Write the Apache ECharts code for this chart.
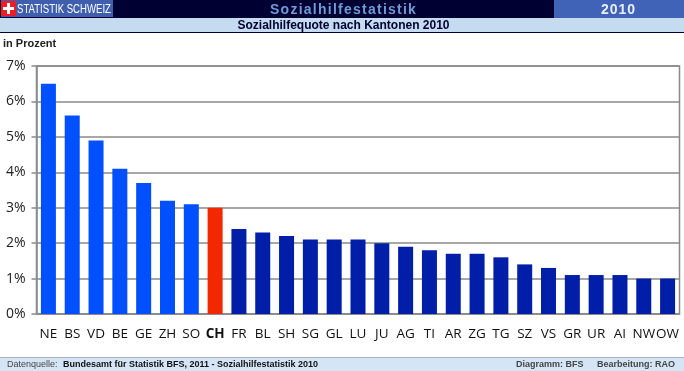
<!DOCTYPE html>
<html>
<head>
<meta charset="utf-8">
<title>Sozialhilfequote nach Kantonen 2010</title>
<script src="https://cdn.jsdelivr.net/npm/echarts@6/dist/echarts.min.js"></script>
<style>
html,body{margin:0;padding:0;background:#fff}
#wrap{position:relative;width:684px;height:371px;overflow:hidden}
#Chart{width:684px;height:371px}
.band{position:absolute;top:0;height:18px;font:bold 14px/18px "Liberation Sans";white-space:nowrap}
#bandTitle{left:270px;color:#6f9bd8;letter-spacing:1.25px}
#bandYear{left:601px;color:#e8eef8;letter-spacing:1px}
</style>
</head>
<body>
<div id="wrap">
<div id="Chart"></div>
<div class="band" id="bandTitle">Sozialhilfestatistik</div>
<div class="band" id="bandYear">2010</div>
</div>
<script>
var cantons=["NE","BS","VD","BE","GE","ZH","SO","CH","FR","BL","SH","SG","GL","LU","JU","AG","TI","AR","ZG","TG","SZ","VS","GR","UR","AI","NW","OW"]
var quota=[6.5,5.6,4.9,4.1,3.7,3.2,3.1,3.0,2.4,2.3,2.2,2.1,2.1,2.1,2.0,1.9,1.8,1.7,1.7,1.6,1.4,1.3,1.1,1.1,1.1,1.0,1.0]
var highCantons=["NE","BS","VD","BE","GE","ZH","SO"]
var yTicks=[0,1,2,3,4,5,6,7]

//bar colour: above average light blue, CH red, the rest dark blue
function barColor(name){
    if(name=="CH") return "#f12800"
    if(highCantons.indexOf(name)>=0) return "#0050ff"
    return "#001ea8"
}

//header and footer
function headerItems(){
    var sans="Liberation Sans"
    return [
        {type:"rect",shape:{x:0,y:0,width:684,height:18},style:{fill:"#000033"}},
        {type:"rect",shape:{x:554,y:0,width:130,height:18},style:{fill:"#4063b8"}},
        {type:"rect",shape:{x:1,y:0,width:112,height:17},style:{fill:"#3f5fae"}},
        {type:"rect",shape:{x:1,y:1,width:15,height:15},style:{fill:"#ee1c25"}},
        {type:"rect",shape:{x:7,y:3,width:3,height:11},style:{fill:"#fff"}},
        {type:"rect",shape:{x:3,y:7,width:11,height:3},style:{fill:"#fff"}},
        {type:"text",x:17,y:9,scaleX:0.71,style:{text:"STATISTIK SCHWEIZ",fill:"#fff",font:"13.5px "+sans,verticalAlign:"middle"}},
        {type:"rect",shape:{x:0,y:18,width:684,height:14},style:{fill:"#c5dbf0"}},
        {type:"rect",shape:{x:0,y:32,width:684,height:1},style:{fill:"#000033"}},
        {type:"text",x:343.5,y:25.5,style:{text:"Sozialhilfequote nach Kantonen 2010",fill:"#000033",font:"bold 12px "+sans,align:"center",verticalAlign:"middle"}},
        {type:"text",x:3,y:43.5,style:{text:"in Prozent",fill:"#222",font:"bold 11px "+sans,verticalAlign:"middle"}},
        {type:"rect",shape:{x:0,y:357,width:684,height:14},style:{fill:"#d5e5f6"}},
        {type:"rect",shape:{x:0,y:357,width:684,height:1},style:{fill:"#aab6c6"}},
        {type:"text",x:7,y:364.5,style:{text:"Datenquelle:",fill:"#444",font:"9px "+sans,verticalAlign:"middle"}},
        {type:"text",x:63,y:364.5,style:{text:"Bundesamt für Statistik BFS, 2011 - Sozialhilfestatistik 2010",fill:"#111",font:"bold 9px "+sans,verticalAlign:"middle"}},
        {type:"text",x:516,y:364.5,style:{text:"Diagramm: BFS",fill:"#444",font:"bold 9px "+sans,verticalAlign:"middle"}},
        {type:"text",x:597,y:364.5,style:{text:"Bearbeitung: RAO",fill:"#444",font:"bold 9px "+sans,verticalAlign:"middle"}}
    ]
}

function drawChar(){
    var myChart=echarts.init(document.getElementById("Chart"),null,{renderer:"canvas"})
    var data=[]
    for(var i=0;i<cantons.length;i++){
        data.push({value:quota[i],itemStyle:{color:barColor(cantons[i])}})
    }
    var option={
        animation:false,
        backgroundColor:"#fff",
        textStyle:{fontFamily:"Open Sans"},
        graphic:{elements:headerItems()},
        grid:{left:36.5,right:4.5,top:66,bottom:57,show:true,borderColor:"#8a8a8a",borderWidth:1.5,backgroundColor:"transparent"},
        xAxis:{
            type:"category",
            data:cantons,
            axisTick:{show:false},
            axisLine:{lineStyle:{color:"#8a8a8a",width:1.5}},
            axisLabel:{
                interval:0,
                margin:13,
                color:"#111",
                fontSize:13.5,
                fontFamily:"Open Sans",
                formatter:function(v){return v=="CH"?"{b|"+v+"}":v},
                rich:{b:{fontWeight:"bold",fontSize:13.5,color:"#111",fontFamily:"Open Sans"}}
            }
        },
        yAxis:{
            type:"value",
            min:yTicks[0],
            max:yTicks[yTicks.length-1],
            interval:1,
            axisLine:{show:true,lineStyle:{color:"#8a8a8a",width:1.5}},
            axisTick:{show:true,length:5,lineStyle:{color:"#8a8a8a",width:1.5}},
            splitLine:{show:true,lineStyle:{color:"#8a8a8a",width:1.5}},
            axisLabel:{margin:11,color:"#222",fontSize:14,fontFamily:"Open Sans",formatter:"{value}%"}
        },
        series:[{type:"bar",data:data,barWidth:15}]
    }
    myChart.setOption(option)
}

drawChar()
</script>
</body>
</html>
